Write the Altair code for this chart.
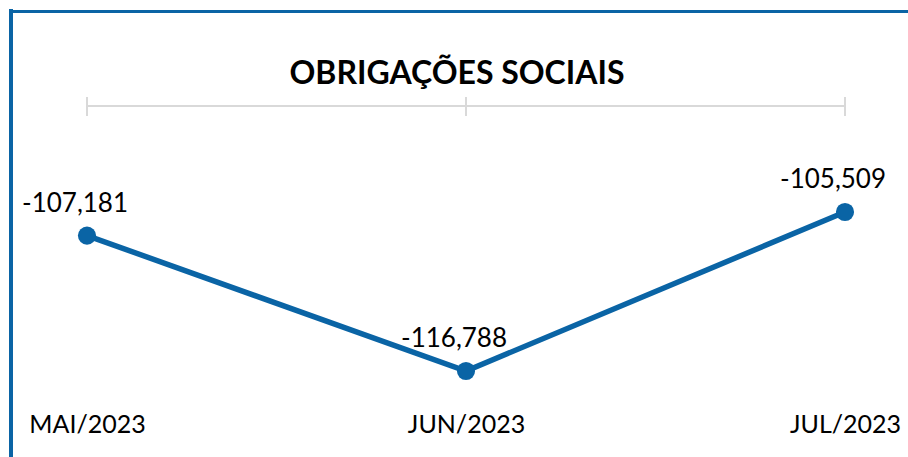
import altair as alt
import pandas as pd

months = ["MAI/2023", "JUN/2023", "JUL/2023"]
values = [-107181, -116788, -105509]
labels = ["-107,181", "-116,788", "-105,509"]

title_text = "OBRIGAÇÕES SOCIAIS"
BLUE = "#0A64A5"
GRAY = "#D9D9D9"
FONT = "Lato"

df = pd.DataFrame({"month": months, "value": values, "label": labels})
span = pd.DataFrame({"start": [months[0]], "end": [months[-1]]})

xscale = alt.Scale(type="point", domain=months, range=[87, 845], padding=0)
yscale = alt.Scale(domain=[min(values), max(values)], range=[271, 112], zero=False, nice=False)

xaxis = alt.Axis(orient="bottom", title=None, domain=False, ticks=False, grid=False,
                 labelFont=FONT, labelFontSize=25, labelColor="#000000",
                 labelPadding=7, labelAngle=0, labelAlign="center", labelBaseline="top")

X = alt.X("month:N", scale=xscale, axis=xaxis, sort=months)
Y = alt.Y("value:Q", scale=yscale, axis=None)

base = alt.Chart(df)

line = base.mark_line(color=BLUE, strokeWidth=5.5).encode(x=X, y=Y)
points = base.mark_circle(color=BLUE, size=330, opacity=1).encode(x=X, y=Y)
texts = base.mark_text(font=FONT, fontSize=26, color="#000000", dy=-24, dx=-12,
                       baseline="alphabetic", align="center").encode(
    x=X, y=Y, text="label:N",
)

hline = alt.Chart(span).mark_rule(color=GRAY, strokeWidth=2).encode(
    x=alt.X("start:N", scale=xscale, axis=xaxis),
    x2="end:N",
    y=alt.value(6),
)
ticks = base.mark_rule(color=GRAY, strokeWidth=2).encode(
    x=X,
    y=alt.value(-3),
    y2=alt.value(16),
)

title_df = pd.DataFrame({"t": [title_text]})
title = alt.Chart(title_df).mark_text(font=FONT, fontSize=32, fontWeight="bold", color="#000000",
                                      align="center", baseline="alphabetic").encode(
    x=alt.value(457), y=alt.value(-16), text="t:N"
)

border_left = alt.Chart(span).mark_rule(color=BLUE, strokeWidth=4).encode(
    x=alt.value(11), y=alt.value(-91), y2=alt.value(357)
)
border_top = alt.Chart(span).mark_rule(color=BLUE, strokeWidth=3).encode(
    x=alt.value(9), x2=alt.value(908), y=alt.value(-88.5)
)

chart = alt.layer(border_left, border_top, hline, ticks, title, line, points, texts).properties(
    width=908, height=305,
    padding={"left": 0, "right": 0, "top": 100, "bottom": 52},
    autosize=alt.AutoSizeParams(type="none"),
    background="#FFFFFF",
).configure_view(stroke=None).configure_axis(domain=False, grid=False)

chart.save("out.html", embed_options={"renderer": "svg", "actions": False})
